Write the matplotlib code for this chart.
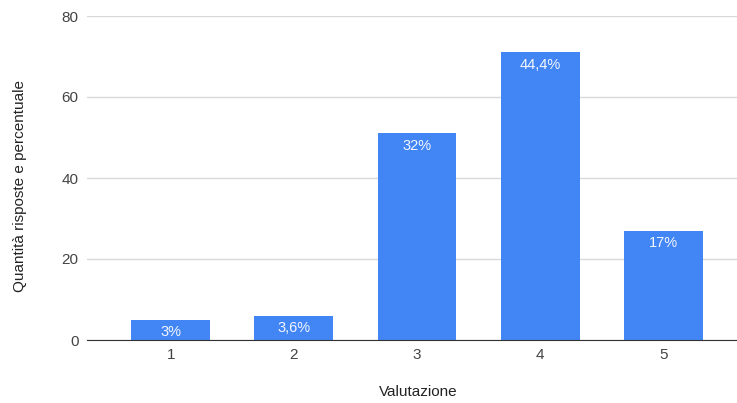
import matplotlib.pyplot as plt

# data
ratings = ["1", "2", "3", "4", "5"]
counts = [5, 6, 51, 71, 27]
pct_labels = ["3%", "3,6%", "32%", "44,4%", "17%"]

plt.rcParams["font.family"] = ["Liberation Sans", "DejaVu Sans"]

fig = plt.figure(figsize=(7.37, 4.03), dpi=100)
ax = fig.add_axes([87 / 737, 1 - 340 / 403, 650 / 737, 324 / 403])

x = list(range(1, len(ratings) + 1))
bars = ax.bar(x, counts, width=0.64, color="#4285f4", zorder=3)

for b, lab in zip(bars, pct_labels):
    ax.annotate(lab, (b.get_x() + b.get_width() / 2, b.get_height()),
                xytext=(0, -4), textcoords="offset points",
                ha="center", va="top", color="#f4f7ff", fontsize=10.5, zorder=4)

ax.set_xlim(0.321, 5.598)
ax.set_ylim(0, 80)
ax.set_yticks([0, 20, 40, 60, 80])
ax.set_xticks(x)
ax.set_xticklabels(ratings)
ax.grid(axis="y", color="#d9d9d9", linewidth=1, zorder=0)
ax.tick_params(axis="both", length=0, labelsize=11, labelcolor="#444444")
ax.tick_params(axis="y", pad=6)
ax.tick_params(axis="x", pad=6)
for s in ["top", "right", "left"]:
    ax.spines[s].set_visible(False)
ax.spines["bottom"].set_color("#333333")
ax.spines["bottom"].set_zorder(5)

fig.text(20 / 737, 1 - 186 / 403, "Quantità risposte e percentuale", rotation=90,
         ha="center", va="center", fontsize=11, color="#222222")
fig.text(418 / 737, 1 - 392 / 403, "Valutazione", ha="center", va="center",
         fontsize=11, color="#222222")

fig.savefig("out.png", dpi=100)
